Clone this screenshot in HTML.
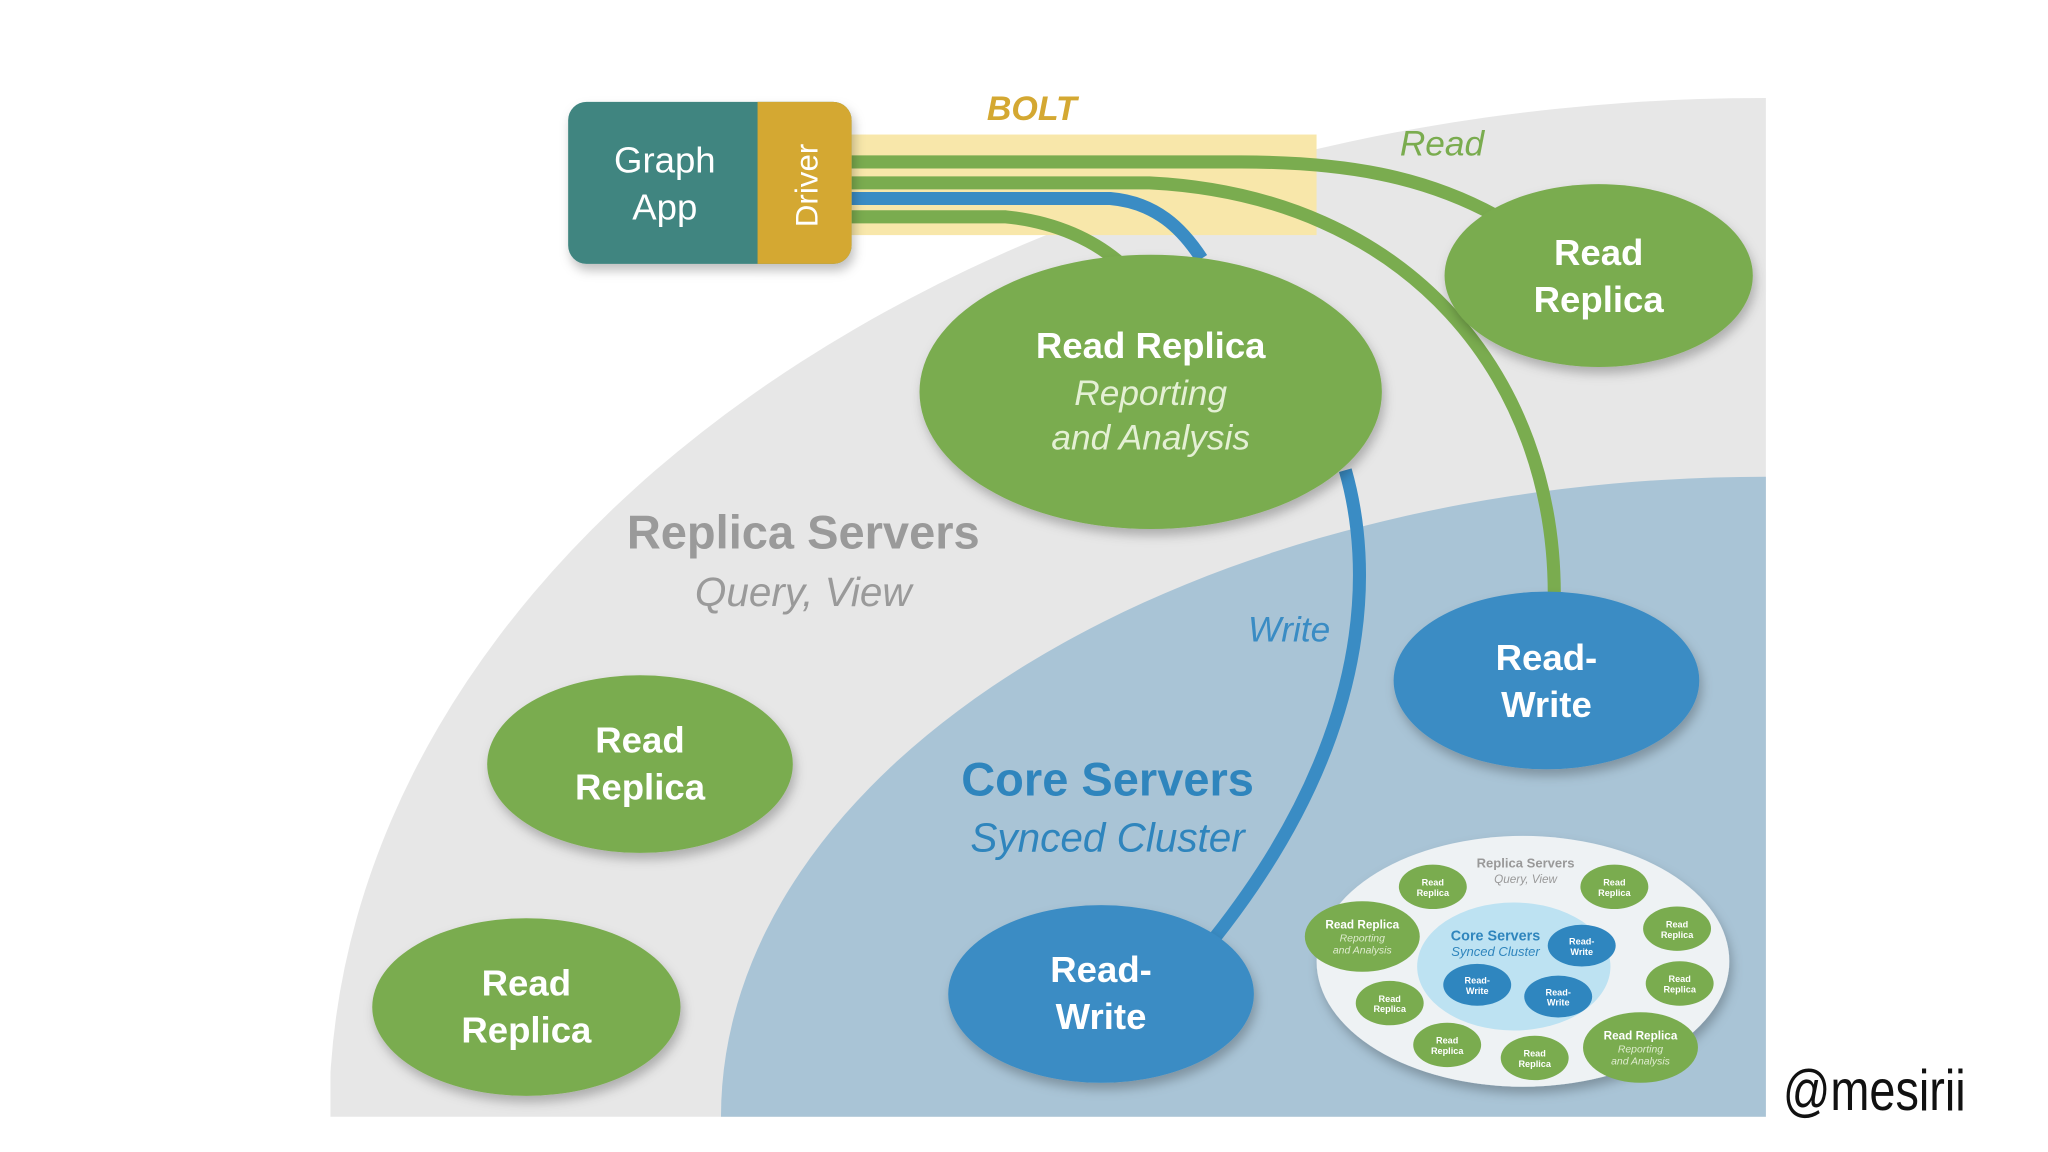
<!DOCTYPE html>
<html><head><meta charset="utf-8"><style>
html,body{margin:0;padding:0;background:#fff;width:2048px;height:1152px;overflow:hidden;}
svg{display:block;}
text{font-family:"Liberation Sans",sans-serif;}
</style></head><body>
<svg width="2048" height="1152" viewBox="0 0 1568 882" xmlns="http://www.w3.org/2000/svg">
<defs>
<clipPath id="pic"><rect x="253" y="45" width="1099" height="810"/></clipPath>
<filter id="sh" x="-20%" y="-20%" width="140%" height="150%"><feDropShadow dx="2" dy="5" stdDeviation="4" flood-color="#000" flood-opacity="0.25"/></filter>
</defs>
<rect width="1568" height="882" fill="#fff"/>
<g clip-path="url(#pic)">
<ellipse cx="1352" cy="855" rx="1100" ry="780" fill="#e7e7e7"/>
<ellipse cx="1352" cy="855" rx="800" ry="490" fill="#a9c4d6"/>
</g>
<rect x="650" y="103" width="358" height="77" fill="#f8e7aa"/>
<g fill="none" stroke-linecap="butt">
<path d="M652,124 L950,124 C1030,124 1090,135 1145,165" stroke="#7aac4f" stroke-width="10"/>
<path d="M652,140 L880,140 C1080,150 1190,290 1190,455" stroke="#7aac4f" stroke-width="10"/>
<path d="M652,152 L850,152 C885,155 905,175 920,198" stroke="#3a8cc4" stroke-width="10"/>
<path d="M1030,360 C1050,430 1055,560 930,718" stroke="#3a8cc4" stroke-width="10"/>
<path d="M652,166 L770,166 C810,170 838,185 856,200" stroke="#7aac4f" stroke-width="10"/>
</g>
<g filter="url(#sh)">
<rect x="435" y="78" width="217" height="124" rx="14" fill="#3f8580"/>
<path d="M580,78 H638 A14,14 0 0 1 652,92 V188 A14,14 0 0 1 638,202 H580 Z" fill="#d4a832"/>
</g>
<text x="509" y="132" font-size="28" fill="#fff" text-anchor="middle">Graph</text>
<text x="509" y="168" font-size="28" fill="#fff" text-anchor="middle">App</text>
<text transform="translate(626,142) rotate(-90)" font-size="24" fill="#fff" text-anchor="middle">Driver</text>
<text x="790" y="92" font-size="26" font-weight="bold" font-style="italic" fill="#d4a832" text-anchor="middle">BOLT</text>
<text x="1104" y="119" font-size="27" font-style="italic" fill="#7aac4f" text-anchor="middle">Read</text>
<text x="987" y="491" font-size="27" font-style="italic" fill="#3a8cc4" text-anchor="middle">Write</text>
<g filter="url(#sh)">
<ellipse cx="1224" cy="211" rx="118" ry="70" fill="#7aac4f"/>
<ellipse cx="881" cy="300" rx="177" ry="105" fill="#7aac4f"/>
<ellipse cx="1184" cy="521" rx="117" ry="68" fill="#3a8cc4"/>
<ellipse cx="490" cy="585" rx="117" ry="68" fill="#7aac4f"/>
<ellipse cx="403" cy="771" rx="118" ry="68" fill="#7aac4f"/>
<ellipse cx="843" cy="761" rx="117" ry="68" fill="#3a8cc4"/>
</g>
<g font-size="28" font-weight="bold" fill="#fff" text-anchor="middle">
<text x="1224" y="203">Read</text><text x="1224" y="239">Replica</text>
<text x="881" y="274">Read Replica</text>
<text x="1184" y="513">Read-</text><text x="1184" y="549">Write</text>
<text x="490" y="576">Read</text><text x="490" y="612">Replica</text>
<text x="403" y="762">Read</text><text x="403" y="798">Replica</text>
<text x="843" y="752">Read-</text><text x="843" y="788">Write</text>
</g>
<g font-size="27" font-style="italic" fill="#e4f0d4" text-anchor="middle">
<text x="881" y="310">Reporting</text><text x="881" y="344">and Analysis</text>
</g>
<text x="615" y="420" font-size="36" font-weight="bold" fill="#9a9a9a" text-anchor="middle">Replica Servers</text>
<text x="615" y="464" font-size="31" font-style="italic" fill="#9a9a9a" text-anchor="middle">Query, View</text>
<text x="848" y="609" font-size="36" font-weight="bold" fill="#2f85bd" text-anchor="middle">Core Servers</text>
<text x="848" y="652" font-size="31" font-style="italic" fill="#2f85bd" text-anchor="middle">Synced Cluster</text>
<ellipse cx="1166" cy="736" rx="158" ry="96" fill="#eef2f4" filter="url(#sh)"/>
<ellipse cx="1159" cy="740" rx="74" ry="49" fill="#bde2f2"/>
<g fill="#7aac4f">
<ellipse cx="1097" cy="679" rx="26" ry="17"/><ellipse cx="1236" cy="679" rx="26" ry="17"/>
<ellipse cx="1284" cy="711" rx="26" ry="17"/><ellipse cx="1286" cy="753" rx="26" ry="17"/>
<ellipse cx="1175" cy="810" rx="26" ry="17"/><ellipse cx="1108" cy="800" rx="26" ry="17"/>
<ellipse cx="1064" cy="768" rx="26" ry="17"/>
<ellipse cx="1256" cy="802" rx="44" ry="27"/><ellipse cx="1043" cy="717" rx="44" ry="27"/>
</g>
<g fill="#2f86bf">
<ellipse cx="1211" cy="724" rx="26" ry="16"/><ellipse cx="1131" cy="754" rx="26" ry="16"/><ellipse cx="1193" cy="763" rx="26" ry="16"/>
</g>
<g font-size="7" font-weight="bold" fill="#fff" text-anchor="middle">
<text x="1097" y="678">Read</text><text x="1097" y="686">Replica</text>
<text x="1236" y="678">Read</text><text x="1236" y="686">Replica</text>
<text x="1284" y="710">Read</text><text x="1284" y="718">Replica</text>
<text x="1286" y="752">Read</text><text x="1286" y="760">Replica</text>
<text x="1175" y="809">Read</text><text x="1175" y="817">Replica</text>
<text x="1108" y="799">Read</text><text x="1108" y="807">Replica</text>
<text x="1064" y="767">Read</text><text x="1064" y="775">Replica</text>
<text x="1211" y="723">Read-</text><text x="1211" y="731">Write</text>
<text x="1131" y="753">Read-</text><text x="1131" y="761">Write</text>
<text x="1193" y="762">Read-</text><text x="1193" y="770">Write</text>
<text x="1256" y="796" font-size="9">Read Replica</text>
<text x="1043" y="711" font-size="9">Read Replica</text>
</g>
<g font-size="8" font-style="italic" fill="#dfeccf" text-anchor="middle">
<text x="1256" y="806">Reporting</text><text x="1256" y="815">and Analysis</text>
<text x="1043" y="721">Reporting</text><text x="1043" y="730">and Analysis</text>
</g>
<text x="1168" y="664" font-size="10" font-weight="bold" fill="#999" text-anchor="middle">Replica Servers</text>
<text x="1168" y="676" font-size="9" font-style="italic" fill="#999" text-anchor="middle">Query, View</text>
<text x="1145" y="720" font-size="11" font-weight="bold" fill="#2f85bd" text-anchor="middle">Core Servers</text>
<text x="1145" y="732" font-size="10" font-style="italic" fill="#2f85bd" text-anchor="middle">Synced Cluster</text>
<text x="1365" y="850" font-size="44" fill="#111" textLength="140" lengthAdjust="spacingAndGlyphs" style="font-family:'Liberation Sans Narrow','Liberation Sans',sans-serif">@mesirii</text>
</svg>
</body></html>
